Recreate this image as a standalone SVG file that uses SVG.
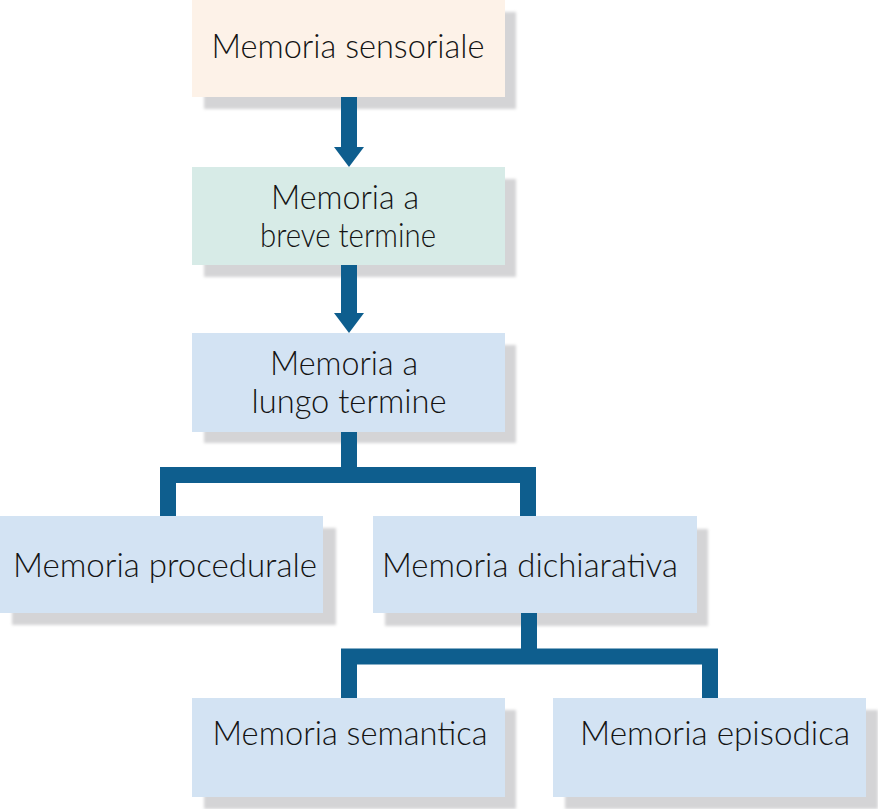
<svg xmlns="http://www.w3.org/2000/svg" width="878" height="809" viewBox="0 0 878 809">
  <style>
    .shadow { fill: #d4d4d6; filter: url(#soft); }
    .peach { fill: #fdf2e8; }
    .mint { fill: #d7ebe7; }
    .blue { fill: #d3e3f3; }
    .lbl { font-family: Lato, "Open Sans", sans-serif; font-weight: 300; font-size: 34px; fill: #141414; text-anchor: middle; }
    .conn { fill: none; stroke: #0e5e8e; stroke-width: 16; stroke-linejoin: miter; }
  </style>
  <defs>
    <filter id="soft" x="-5%" y="-10%" width="110%" height="120%">
      <feGaussianBlur stdDeviation="1.5"/>
    </filter>
    <marker id="head" markerUnits="userSpaceOnUse" viewBox="0 0 20 30" markerWidth="20" markerHeight="30" refX="2" refY="15" orient="auto">
      <path d="M0,0 L20,15 L0,30 Z" fill="#0e5e8e"/>
    </marker>
  </defs>
  <rect width="878" height="809" fill="#ffffff"/>

  <g id="sensoriale">
    <rect class="shadow" x="204" y="12" width="312" height="97"/>
    <rect class="peach" x="192" y="0" width="313" height="97"/>
    <text class="lbl" x="348" y="58" textLength="273" lengthAdjust="spacingAndGlyphs">Memoria sensoriale</text>
  </g>

  <g id="breve">
    <rect class="shadow" x="204" y="179" width="312" height="98"/>
    <rect class="mint" x="192" y="167" width="313" height="98"/>
    <text class="lbl" x="345" y="209" textLength="148" lengthAdjust="spacingAndGlyphs">Memoria a</text>
    <text class="lbl" x="348" y="247" textLength="176" lengthAdjust="spacingAndGlyphs">breve termine</text>
  </g>

  <g id="lungo">
    <rect class="shadow" x="204" y="345" width="312" height="98"/>
    <rect class="blue" x="192" y="333" width="313" height="99"/>
    <text class="lbl" x="344" y="375" textLength="148" lengthAdjust="spacingAndGlyphs">Memoria a</text>
    <text class="lbl" x="349" y="413" textLength="195" lengthAdjust="spacingAndGlyphs">lungo termine</text>
  </g>

  <g id="procedurale">
    <rect class="shadow" x="12" y="528" width="324" height="97"/>
    <rect class="blue" x="0" y="516" width="323" height="97"/>
    <text class="lbl" x="165" y="577" textLength="304" lengthAdjust="spacingAndGlyphs">Memoria procedurale</text>
  </g>

  <g id="dichiarativa">
    <rect class="shadow" x="385" y="529" width="323" height="97"/>
    <rect class="blue" x="373" y="516" width="324" height="97"/>
    <text class="lbl" x="530" y="577" textLength="296" lengthAdjust="spacingAndGlyphs">Memoria dichiarativa</text>
  </g>

  <g id="semantica">
    <rect class="shadow" x="204" y="710" width="312" height="99"/>
    <rect class="blue" x="192" y="698" width="313" height="99"/>
    <text class="lbl" x="350" y="745" textLength="275" lengthAdjust="spacingAndGlyphs">Memoria semantica</text>
  </g>

  <g id="episodica">
    <rect class="shadow" x="565" y="710" width="313" height="99"/>
    <rect class="blue" x="553" y="698" width="313" height="99"/>
    <text class="lbl" x="715" y="745" textLength="270" lengthAdjust="spacingAndGlyphs">Memoria episodica</text>
  </g>

  <g id="connectors">
    <path class="conn" d="M349,97 V149" marker-end="url(#head)"/>
    <path class="conn" d="M349,265 V315" marker-end="url(#head)"/>
    <path class="conn" d="M349,432 V475"/>
    <path class="conn" d="M168,516 V475 H528 V516"/>
    <path class="conn" d="M529,613 V656"/>
    <path class="conn" d="M349,698 V656.5 H710 V698"/>
  </g>
</svg>
